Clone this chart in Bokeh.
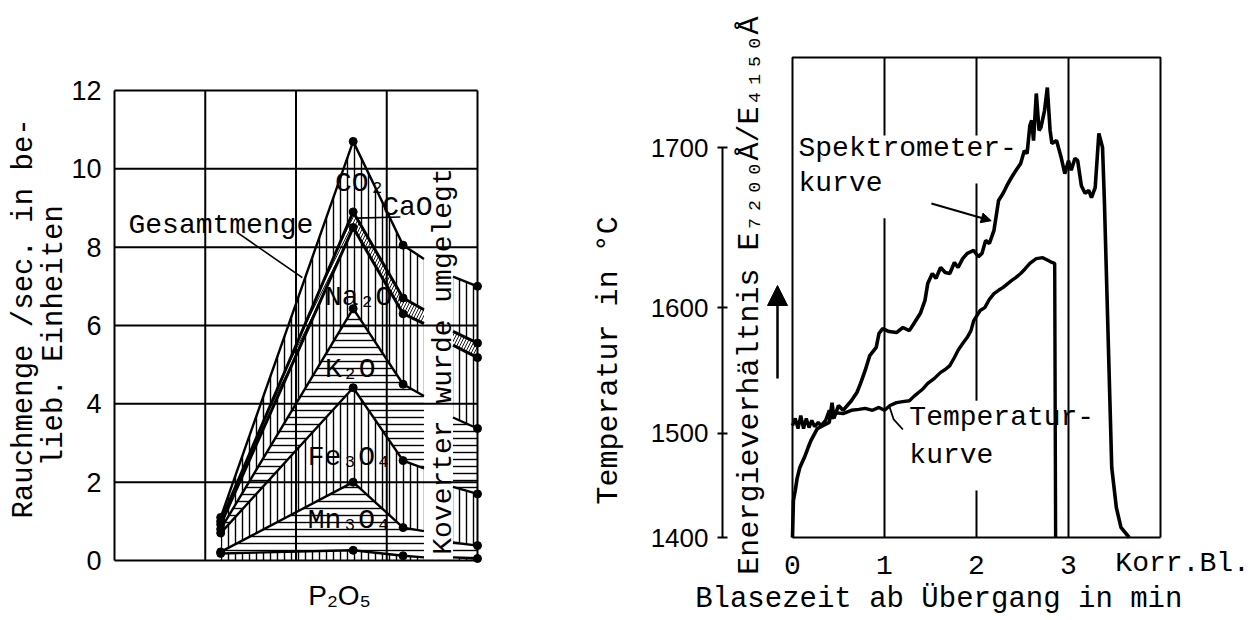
import math
from bokeh.plotting import figure
from bokeh.models import Label, FixedTicker, Arrow, NormalHead, Range1d, LinearAxis
from bokeh.layouts import row
from bokeh.embed import file_html
from bokeh.resources import INLINE

MONO = "Liberation Mono"
SANS = "Liberation Sans"

# ---------------- left chart: Rauchmenge (fume amount) ----------------
fume_x = [1.17, 2.63, 3.18, 3.41]
co2 = [1.10, 10.70, 8.05, 7.70]
cao = [1.00, 8.90, 6.70, 6.40]
na2o = [0.92, 8.50, 6.30, 6.05]
k2o = [0.80, 6.43, 4.50, 4.20]
fe3o4 = [0.70, 4.41, 2.55, 2.35]
mn3o4 = [0.22, 2.00, 0.84, 0.75]
p2o5 = [0.18, 0.26, 0.12, 0.08]
base = [0.0, 0.0, 0.0, 0.0]

tilt_x = [3.73, 4.00]
co2_t = [7.25, 7.00]
cao_t = [5.85, 5.55]
na2o_t = [5.50, 5.18]
k2o_t = [3.65, 3.37]
fe3o4_t = [1.88, 1.70]
mn3o4_t = [0.46, 0.38]
p2o5_t = [0.08, 0.05]
base_t = [0.0, 0.0]

left_yticks = [0, 2, 4, 6, 8, 10, 12]
left_xticks = [0, 1, 2, 3, 4]
left_xlabel_pos = [2.48]
left_xlabel_text = ["P₂O₅"]

# ---------------- right chart: spectrometer / temperature ----------------
temp_tick_labels = ["1400", "1500", "1600", "1700"]
temp_tick_pos = [0.0, 21.7, 47.9, 81.25]   # position on the (non-linear) energy-ratio scale
time_ticks = [0, 1, 2, 3]

spek_t = [0.00, 0.01, 0.03, 0.05, 0.08, 0.13, 0.17, 0.20, 0.27, 0.33, 0.40, 0.43, 0.45, 0.50,
          0.55, 0.64, 0.70, 0.74, 0.79, 0.84, 0.91, 0.94, 0.98, 1.05, 1.13, 1.20, 1.27, 1.32,
          1.39, 1.44, 1.47, 1.52, 1.56, 1.61, 1.66, 1.71, 1.76, 1.80, 1.85, 1.90, 1.97, 2.02,
          2.06, 2.10, 2.14, 2.19, 2.22, 2.24, 2.29, 2.33, 2.38, 2.43, 2.48, 2.52, 2.55, 2.58,
          2.60, 2.62, 2.65, 2.68, 2.70, 2.74, 2.77, 2.80, 2.82, 2.87, 2.90, 2.92, 2.96, 3.00,
          3.03, 3.07, 3.10, 3.14, 3.18, 3.22, 3.25, 3.29, 3.31, 3.33, 3.37, 3.39, 3.42, 3.45,
          3.47, 3.52, 3.57, 3.66]
spek_u = [0.0, 7.7, 9.8, 12.3, 14.6, 16.7, 18.75, 20.2, 22.7, 23.3, 24.0, 28.1, 24.8, 27.5,
          26.5, 28.5, 30.2, 32.1, 34.8, 37.9, 39.6, 42.5, 43.5, 42.9, 42.7, 43.75, 43.1, 44.6,
          46.7, 49.4, 52.9, 55.0, 54.0, 56.25, 55.2, 55.0, 57.3, 56.25, 58.1, 59.2, 59.8, 58.5,
          59.2, 61.9, 61.25, 64.0, 67.7, 70.2, 71.7, 73.3, 75.0, 76.5, 77.9, 80.6, 80.0, 85.8,
          86.9, 82.7, 92.5, 84.8, 85.4, 89.0, 93.75, 84.8, 82.1, 82.7, 80.6, 79.2, 75.8, 78.5,
          76.5, 79.0, 78.5, 73.3, 71.7, 72.3, 70.8, 72.9, 78.5, 84.2, 81.25, 70.2, 49.4, 28.5,
          14.6, 6.25, 2.1, 0.0]

temp_t = [0.00, 0.03, 0.06, 0.09, 0.12, 0.15, 0.18, 0.21, 0.24, 0.28, 0.31, 0.36, 0.40, 0.43,
          0.47, 0.55, 0.64, 0.72, 0.79, 0.87, 0.94, 1.00, 1.06, 1.13, 1.20, 1.27, 1.32, 1.37,
          1.42, 1.47, 1.54, 1.61, 1.66, 1.71, 1.76, 1.80, 1.85, 1.90, 1.94, 1.97, 2.04, 2.09,
          2.14, 2.19, 2.24, 2.29, 2.34, 2.38, 2.43, 2.48, 2.53, 2.58, 2.62, 2.65, 2.72, 2.78,
          2.82, 2.85, 2.86]
temp_u = [23.3, 24.8, 22.7, 25.4, 22.7, 24.8, 22.9, 24.4, 23.1, 24.0, 23.3, 24.4, 26.5, 24.8,
          26.0, 25.8, 26.5, 26.7, 26.9, 26.5, 27.1, 26.5, 27.5, 28.1, 28.3, 28.5, 29.4, 30.2,
          31.0, 32.1, 33.1, 34.4, 35.0, 35.8, 37.5, 39.0, 40.4, 41.7, 43.1, 45.2, 47.3, 47.9,
          49.6, 50.8, 51.5, 52.1, 52.9, 53.5, 54.2, 55.0, 56.0, 57.1, 57.7, 58.1, 58.3, 57.7,
          57.3, 57.1, 0.0]

# partial vertical grid lines of the right chart (interrupted by the labels)
grid_x0 = [1, 1, 2, 2, 2, 3]
grid_y0 = [100, 66.5, 100, 73.75, 9.8, 100]
grid_y1 = [83.75, 0, 83.75, 28.5, 0, 0]


def label(p, x, y, text, size, font=MONO, angle=0.0, align="left", baseline="middle"):
    p.add_layout(Label(x=x, y=y, text=text, text_font=font, text_font_size=f"{size}px",
                       angle=angle, text_align=align, text_baseline=baseline,
                       text_color="black"))


def bare_figure(w, h, xr, yr):
    p = figure(width=w, height=h, x_range=Range1d(*xr), y_range=Range1d(*yr),
               output_backend="svg", toolbar_location=None, title=None,
               x_axis_location=None, y_axis_location=None, min_border=0)
    p.outline_line_color = None
    p.grid.visible = False
    p.background_fill_color = "white"
    p.border_fill_color = "white"
    return p


# ======================= LEFT FIGURE =======================
p1 = bare_figure(560, 620, (-1.2562, 4.9146), (-1.5318, 14.2967))

yax1 = LinearAxis(fixed_location=0, ticker=FixedTicker(ticks=left_yticks))
yax1.axis_line_color = None
yax1.major_tick_line_color = None
yax1.minor_tick_line_color = None
yax1.major_label_standoff = 7
yax1.major_label_text_font = SANS
yax1.major_label_text_font_size = "27px"
yax1.major_label_text_color = "black"
p1.add_layout(yax1, "left")

xax1 = LinearAxis(fixed_location=0, ticker=FixedTicker(ticks=left_xlabel_pos))
xax1.major_label_overrides = dict(zip(left_xlabel_pos, left_xlabel_text))
xax1.axis_line_color = None
xax1.major_tick_line_color = None
xax1.minor_tick_line_color = None
xax1.major_label_standoff = 14
xax1.major_label_text_font = SANS
xax1.major_label_text_font_size = "28px"
xax1.major_label_text_color = "black"
p1.add_layout(xax1, "below")

# grid + frame
p1.segment(x0=left_xticks, y0=[0] * 5, x1=left_xticks, y1=[12] * 5, line_color="black", line_width=2)
p1.segment(x0=[0] * 7, y0=left_yticks, x1=[4] * 7, y1=left_yticks, line_color="black", line_width=2)

main_curves = [co2, cao, na2o, k2o, fe3o4, mn3o4, p2o5, base]
tilt_curves = [co2_t, cao_t, na2o_t, k2o_t, fe3o4_t, mn3o4_t, p2o5_t, base_t]
patterns = ["vertical_line", "right_diagonal_line", "vertical_line", "horizontal_line",
            "vertical_line", "horizontal_line", "vertical_line"]
scales = [7, 6, 7, 7, 7, 7, 7]
weights = [1.4, 0.9, 1.4, 1.4, 1.4, 1.4, 1.4]

for xs, curves in ((fume_x, main_curves), (tilt_x, tilt_curves)):
    for i, pat in enumerate(patterns):
        p1.varea(x=xs, y1=curves[i + 1], y2=curves[i], fill_color=None,
                 hatch_pattern=pat, hatch_color="black", hatch_scale=scales[i],
                 hatch_weight=weights[i])
    for i, c in enumerate(curves[:-1]):
        w = 3.0 if i in (1, 2) else 2.4
        p1.line(xs, c, line_color="black", line_width=w)

for c in main_curves[:-1]:
    p1.scatter(fume_x[:3], c[:3], size=8, color="black")
for c in tilt_curves[:-1]:
    p1.scatter(tilt_x[1:], c[1:], size=8, color="black")

# leader lines
p1.line([1.355, 2.07], [8.37, 7.22], line_color="black", line_width=1.6)
p1.line([2.66, 3.15], [8.74, 8.77], line_color="black", line_width=1.6)

label(p1, 0.154, 8.55, "Gesamtmenge", 28)
label(p1, 2.43, 9.62, "CO₂", 28)
label(p1, 2.95, 9.01, "CaO", 28)
label(p1, 2.32, 6.72, "Na₂O", 28)
label(p1, 2.32, 4.88, "K₂O", 28)
label(p1, 2.13, 2.62, "Fe₃O₄", 28)
label(p1, 2.13, 1.02, "Mn₃O₄", 28)
label(p1, 3.62, 5.08, "Koverter wurde umgelegt", 28, angle=math.pi / 2, align="center")
label(p1, -0.99, 6.18, "Rauchmenge /sec. in be-", 29, angle=math.pi / 2, align="center")
label(p1, -0.66, 5.74, "lieb. Einheiten", 29, angle=math.pi / 2, align="center")

# ======================= RIGHT FIGURE =======================
p2 = bare_figure(696, 620, (-2.5217, 5.0435), (-17.29, 111.875))

yax2 = LinearAxis(fixed_location=-0.761, ticker=FixedTicker(ticks=temp_tick_pos))
yax2.major_label_overrides = dict(zip(temp_tick_pos, temp_tick_labels))
yax2.bounds = (temp_tick_pos[0], temp_tick_pos[-1])
yax2.axis_line_width = 2
yax2.major_tick_in = 5
yax2.major_tick_out = 5
yax2.major_tick_line_width = 2
yax2.minor_tick_line_color = None
yax2.major_label_standoff = 9
yax2.major_label_text_font = SANS
yax2.major_label_text_font_size = "26px"
yax2.major_label_text_color = "black"
p2.add_layout(yax2, "left")

xax2 = LinearAxis(fixed_location=0, ticker=FixedTicker(ticks=time_ticks))
xax2.bounds = (0, 4)
xax2.axis_line_width = 2
xax2.major_tick_line_color = None
xax2.minor_tick_line_color = None
xax2.major_label_standoff = 12
xax2.major_label_text_font = MONO
xax2.major_label_text_font_size = "28px"
xax2.major_label_text_color = "black"
p2.add_layout(xax2, "below")

# frame box and partial grid
p2.line([0, 0, 4, 4], [0, 100, 100, 0], line_color="black", line_width=2)
p2.segment(x0=grid_x0, y0=grid_y0, x1=grid_x0, y1=grid_y1, line_color="black", line_width=2)

p2.line(temp_t, temp_u, line_color="black", line_width=3.4)
p2.line(spek_t, spek_u, line_color="black", line_width=3.6)

label(p2, 0.065, 81.0, "Spektrometer-", 28)
label(p2, 0.065, 73.75, "kurve", 28)
p2.add_layout(Arrow(end=NormalHead(size=10, fill_color="black", line_color="black"),
                    x_start=1.51, y_start=69.6, x_end=2.16, y_end=66.0,
                    line_color="black", line_width=2))
label(p2, 1.27, 25.0, "Temperatur-", 28)
label(p2, 1.27, 17.1, "kurve", 28)
p2.line([1.05, 1.10, 1.20], [27.5, 24.6, 22.5], line_color="black", line_width=1.8)

p2.add_layout(Arrow(end=NormalHead(size=20, fill_color="black", line_color="black"),
                    x_start=-0.163, y_start=33.1, x_end=-0.163, y_end=52.5,
                    line_color="black", line_width=2.5))

label(p2, -1.99, 36.9, "Temperatur in °C", 30, angle=math.pi / 2, align="center")
label(p2, -0.46, 50.4, "Energieverhältnis E₇₂₀₀Å/E₄₁₅₀Å", 30, angle=math.pi / 2, align="center")
label(p2, 4.24, -5.4, "Korr.Bl.", 28, align="center")
label(p2, 1.59, -12.9, "Blasezeit ab Übergang in min", 29, align="center")

layout = row(p1, p2)
open("out.html", "w").write(file_html(layout, INLINE))
